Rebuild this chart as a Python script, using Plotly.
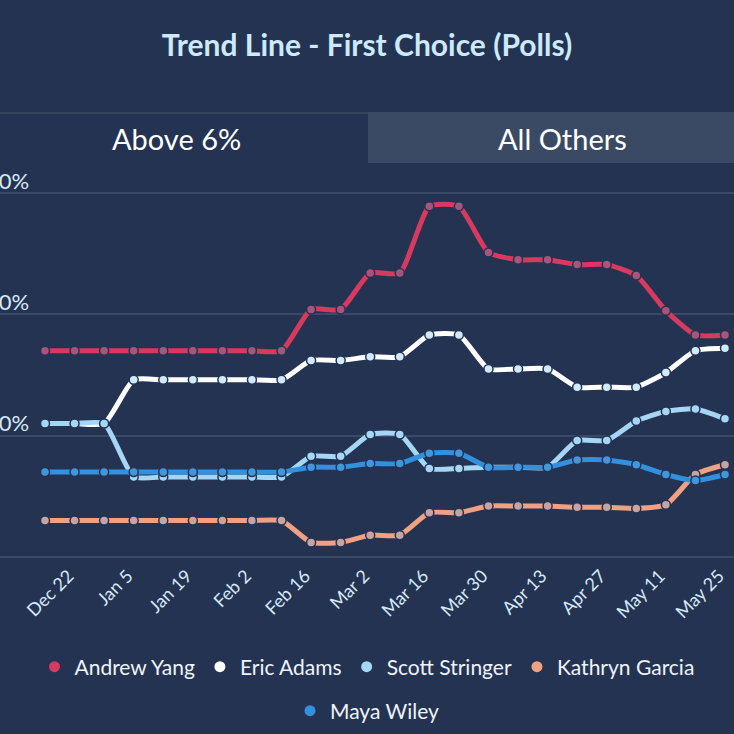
import plotly.graph_objects as go
import pandas as pd

# ---- data ----
dates = pd.date_range("2020-12-15", "2021-05-25", freq="7D")
tick_dates = ["2020-12-22", "2021-01-05", "2021-01-19", "2021-02-02", "2021-02-16", "2021-03-02",
              "2021-03-16", "2021-03-30", "2021-04-13", "2021-04-27", "2021-05-11", "2021-05-25"]
tick_labels = ["Dec 22", "Jan 5", "Jan 19", "Feb 2", "Feb 16", "Mar 2",
               "Mar 16", "Mar 30", "Apr 13", "Apr 27", "May 11", "May 25"]

andrew_yang = [17.0, 17.0, 17.0, 17.0, 17.0, 17.0, 17.0, 17.0, 17.0, 20.4, 20.4, 23.4,
               23.4, 28.9, 28.9, 25.1, 24.5, 24.5, 24.1, 24.1, 23.2, 20.3, 18.3, 18.3]
eric_adams = [11.0, 11.0, 11.0, 14.6, 14.6, 14.6, 14.6, 14.6, 14.6, 16.2, 16.2, 16.5,
              16.5, 18.3, 18.3, 15.5, 15.5, 15.5, 14.0, 14.0, 14.0, 15.2, 17.0, 17.2]
scott_stringer = [11.0, 11.0, 11.0, 6.6, 6.6, 6.6, 6.6, 6.6, 6.6, 8.3, 8.3, 10.1,
                  10.1, 7.3, 7.3, 7.4, 7.4, 7.4, 9.6, 9.6, 11.2, 12.0, 12.2, 11.4]
kathryn_garcia = [3.0, 3.0, 3.0, 3.0, 3.0, 3.0, 3.0, 3.0, 3.0, 1.2, 1.2, 1.8,
                  1.8, 3.65, 3.65, 4.2, 4.2, 4.2, 4.1, 4.1, 4.0, 4.3, 6.8, 7.6]
maya_wiley = [7.0, 7.0, 7.0, 7.0, 7.0, 7.0, 7.0, 7.0, 7.0, 7.4, 7.4, 7.7,
              7.7, 8.55, 8.55, 7.4, 7.4, 7.4, 8.0, 8.0, 7.6, 6.8, 6.3, 6.8]

series_names = ["Andrew Yang", "Eric Adams", "Scott Stringer", "Kathryn Garcia", "Maya Wiley"]
series_values = [andrew_yang, eric_adams, scott_stringer, kathryn_garcia, maya_wiley]
y_ticks = [10, 20, 30]
y_tick_labels = ["10%", "20%", "30%"]

# ---- styles ----
BG = "#243352"
GRID = "#3a4966"
line_colors = ["#d7395f", "#ffffff", "#a5d7f5", "#f0a184", "#3191df"]
marker_colors = ["#a8547c", "#cfeafc", "#a5d7f5", "#c7a3a2", "#4196dc"]
FONT = "Lato"

fig = go.Figure()
for name, vals, lc, mc in zip(series_names, series_values, line_colors, marker_colors):
    fig.add_trace(go.Scatter(
        x=dates, y=vals, name=name, mode="lines+markers",
        line=dict(color=lc, width=5, shape="spline", smoothing=0.55),
        marker=dict(size=9, color=mc, line=dict(color=BG, width=1.5)),
        showlegend=False, hoverinfo="x+y+name",
    ))

# legend entries (dot only), split in two centred rows
for i, (name, lc) in enumerate(zip(series_names, line_colors)):
    fig.add_trace(go.Scatter(
        x=[None], y=[None], name=name, mode="markers",
        marker=dict(size=11, color=lc),
        legend="legend" if i < 4 else "legend2",
    ))

H = 734
top_px, bot_px = 163, 557
ph = bot_px - top_px


def py(y):
    return (bot_px - y) / ph


px_per_unit = (557 - 193) / 30.0
y_top = (bot_px - top_px) / px_per_unit

px_per_day = (725 - 45) / 161.0
x0 = dates[0] - pd.Timedelta(days=45 / px_per_day)
x1 = dates[-1] + pd.Timedelta(days=9 / px_per_day)

fig.update_layout(
    width=734, height=734,
    paper_bgcolor=BG, plot_bgcolor=BG,
    margin=dict(l=0, r=0, t=top_px, b=H - bot_px, pad=0),
    title=dict(text="<b>Trend Line - First Choice (Polls)</b>", x=0.5, xanchor="center",
               y=1 - 45 / H, yanchor="middle",
               font=dict(family=FONT, size=30, color="#cdeafd")),
    font=dict(family=FONT, color="#d8e8f6"),
    xaxis=dict(range=[x0, x1], showgrid=False, zeroline=False, showline=False,
               tickvals=pd.to_datetime(tick_dates), ticktext=tick_labels,
               tickangle=-45, tickfont=dict(size=18, color="#d6e8f7"),
               ticks="", ticklabelstandoff=4, ticklabelshift=-6,
               automargin=False, fixedrange=True),
    yaxis=dict(range=[0, y_top], tickvals=y_ticks, ticktext=y_tick_labels,
               showgrid=True, gridcolor=GRID, gridwidth=1.5,
               zeroline=True, zerolinecolor=GRID, zerolinewidth=1.5,
               ticklabelposition="inside", ticklabelstandoff=-17, ticklabelshift=-12,
               tickfont=dict(size=22, color="#d8e8f6"), showline=False,
               automargin=False, fixedrange=True),
    legend=dict(orientation="h", x=0.5, xanchor="center", y=py(667), yanchor="middle",
                font=dict(size=21, color="#eef4fa"), itemwidth=30, bgcolor="rgba(0,0,0,0)",
                tracegroupgap=0),
    legend2=dict(orientation="h", x=0.5, xanchor="center", y=py(711), yanchor="middle",
                 font=dict(size=21, color="#eef4fa"), itemwidth=30, bgcolor="rgba(0,0,0,0)"),
    hovermode="closest",
)

# tabs
fig.add_shape(type="rect", xref="paper", yref="paper", x0=368 / 734, x1=1.0,
              y0=py(163), y1=py(112), fillcolor="#3b4a64", line=dict(width=0), layer="below")
fig.add_shape(type="line", xref="paper", yref="paper", x0=0, x1=368 / 734,
              y0=py(113), y1=py(113), line=dict(color="#33425d", width=2))
fig.add_annotation(text="Above 6%", xref="paper", yref="paper", x=176 / 734, y=py(138),
                   xanchor="center", yanchor="middle",
                   showarrow=False, font=dict(family=FONT, size=29, color="#ffffff"))
fig.add_annotation(text="All Others", xref="paper", yref="paper", x=562 / 734, y=py(138),
                   xanchor="center", yanchor="middle",
                   showarrow=False, font=dict(family=FONT, size=29, color="#ffffff"))

fig.write_html("out.html", config={"displayModeBar": False},
               post_script="document.body.style.margin='0';document.body.style.padding='0';"
                           "document.body.style.overflow='hidden';")
